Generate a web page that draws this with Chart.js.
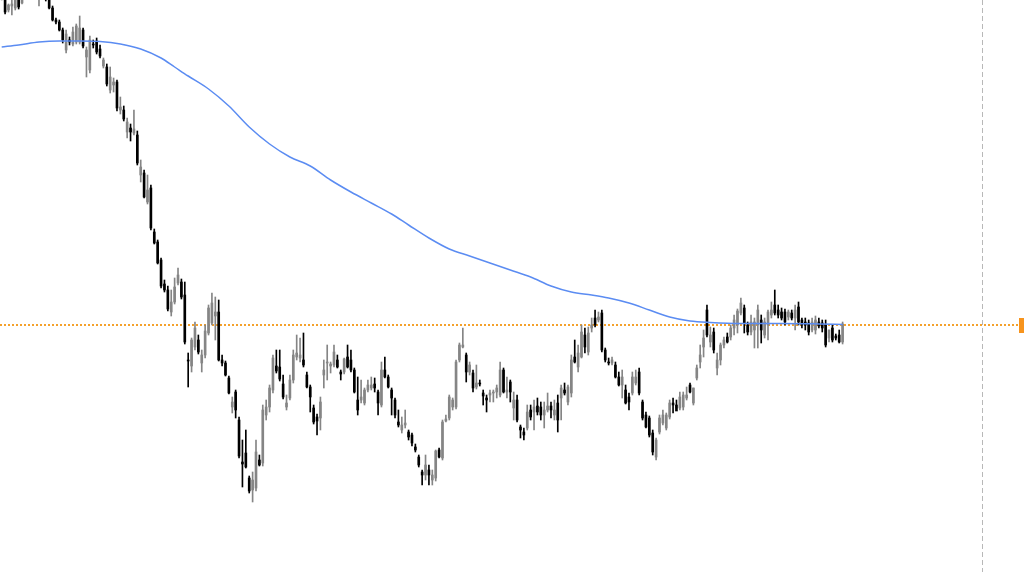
<!DOCTYPE html>
<html>
<head>
<meta charset="utf-8">
<script src="https://cdn.jsdelivr.net/npm/chart.js@4.4.1/dist/chart.umd.min.js"></script>
<style>
  html, body { margin: 0; padding: 0; background: #ffffff; }
  #wrap { width: 1024px; height: 572px; position: relative; }
</style>
</head>
<body>
<div id="wrap"><canvas id="c"></canvas></div>
<script>
// ---- data ----
const openP = [1.2002,1.2004,1.1990,1.1994,1.1992,1.2002,1.1997,1.2005,1.2009,1.2012,1.2010,1.2002,1.2006,1.2004,1.2003,1.1992,1.1980,1.1978,1.1970,1.1950,
1.1960,1.1956,1.1958,1.1958,1.1970,1.1943,1.1930,1.1956,1.1959,1.1951,1.1934,1.1933,1.1910,1.1915,1.1918,1.1890,1.1890,1.1868,1.1872,1.1867,
1.1865,1.1825,1.1827,1.1798,1.1812,1.1768,1.1758,1.1740,1.1716,1.1710,1.1688,1.1698,1.1717,1.1718,1.1705,1.1640,1.1634,1.1653,1.1660,1.1637,
1.1645,1.1667,1.1677,1.1684,1.1688,1.1640,1.1637,1.1622,1.1593,1.1608,1.1580,1.1538,1.1547,1.1522,1.1510,1.1512,1.1540,1.1537,1.1585,1.1593,
1.1610,1.1634,1.1633,1.1616,1.1593,1.1602,1.1620,1.1643,1.1642,1.1640,1.1625,1.1613,1.1592,1.1583,1.1582,1.1625,1.1637,1.1634,1.1635,1.1640,
1.1628,1.1628,1.1643,1.1640,1.1630,1.1600,1.1600,1.1597,1.1610,1.1612,1.1616,1.1608,1.1595,1.1630,1.1623,1.1610,1.1600,1.1578,1.1570,1.1575,
1.1568,1.1565,1.1553,1.1543,1.1528,1.1525,1.1530,1.1520,1.1522,1.1550,1.1542,1.1579,1.1582,1.1593,1.1593,1.1640,1.1653,1.1645,1.1628,1.1627,
1.1613,1.1617,1.1607,1.1602,1.1605,1.1607,1.1608,1.1605,1.1630,1.1608,1.1618,1.1592,1.1600,1.1573,1.1568,1.1572,1.1590,1.1588,1.1594,1.1593,
1.1585,1.1590,1.1594,1.1585,1.1597,1.1602,1.1610,1.1598,1.1607,1.1643,1.1633,1.1643,1.1665,1.1648,1.1672,1.1682,1.1680,1.1687,1.1650,1.1638,
1.1637,1.1635,1.1623,1.1615,1.1610,1.1603,1.1607,1.1617,1.1628,1.1598,1.1585,1.1582,1.1567,1.1543,1.1568,1.1577,1.1572,1.1583,1.1597,1.1595,
1.1592,1.1593,1.1602,1.1615,1.1597,1.1622,1.1638,1.1653,1.1690,1.1658,1.1668,1.1632,1.1640,1.1655,1.1663,1.1663,1.1672,1.1675,1.1687,1.1692,
1.1675,1.1668,1.1670,1.1675,1.1680,1.1665,1.1675,1.1685,1.1695,1.1690,1.1688,1.1688,1.1683,1.1687,1.1682,1.1693,1.1680,1.1678,1.1677,1.1670,
1.1670,1.1678,1.1677,1.1675,1.1662,1.1672,1.1664,1.1665,1.1658];
const highP = [1.2014,1.2008,1.1996,1.2002,1.2003,1.2005,1.2006,1.2012,1.2015,1.2018,1.2016,1.2008,1.2010,1.2009,1.2006,1.1994,1.1982,1.1980,1.1972,1.1970,
1.1963,1.1973,1.1976,1.1984,1.1972,1.1953,1.1964,1.1960,1.1962,1.1955,1.1942,1.1936,1.1933,1.1922,1.1920,1.1903,1.1894,1.1882,1.1876,1.1890,
1.1869,1.1840,1.1830,1.1825,1.1815,1.1771,1.1760,1.1742,1.1720,1.1714,1.1710,1.1722,1.1732,1.1721,1.1718,1.1647,1.1662,1.1678,1.1665,1.1650,
1.1675,1.1695,1.1707,1.1703,1.1700,1.1645,1.1639,1.1624,1.1603,1.1610,1.1583,1.1560,1.1570,1.1524,1.1528,1.1560,1.1545,1.1595,1.1600,1.1615,
1.1645,1.1650,1.1650,1.1625,1.1605,1.1625,1.1650,1.1665,1.1662,1.1667,1.1628,1.1615,1.1595,1.1586,1.1603,1.1640,1.1655,1.1638,1.1655,1.1645,
1.1630,1.1642,1.1655,1.1650,1.1632,1.1623,1.1620,1.1612,1.1620,1.1623,1.1622,1.1610,1.1638,1.1643,1.1625,1.1612,1.1602,1.1590,1.1583,1.1590,
1.1570,1.1567,1.1556,1.1545,1.1530,1.1545,1.1535,1.1530,1.1550,1.1552,1.1580,1.1585,1.1605,1.1602,1.1640,1.1657,1.1672,1.1647,1.1638,1.1630,
1.1635,1.1620,1.1610,1.1605,1.1610,1.1610,1.1615,1.1638,1.1632,1.1623,1.1620,1.1608,1.1605,1.1575,1.1572,1.1595,1.1595,1.1600,1.1602,1.1598,
1.1598,1.1607,1.1598,1.1600,1.1605,1.1615,1.1617,1.1615,1.1645,1.1660,1.1655,1.1675,1.1672,1.1673,1.1682,1.1690,1.1688,1.1690,1.1652,1.1642,
1.1643,1.1638,1.1628,1.1630,1.1615,1.1607,1.1628,1.1630,1.1632,1.1600,1.1588,1.1584,1.1570,1.1562,1.1585,1.1590,1.1587,1.1600,1.1602,1.1600,
1.1608,1.1608,1.1613,1.1617,1.1612,1.1635,1.1655,1.1670,1.1695,1.1673,1.1672,1.1647,1.1657,1.1663,1.1667,1.1675,1.1685,1.1691,1.1702,1.1695,
1.1678,1.1685,1.1682,1.1695,1.1685,1.1682,1.1690,1.1698,1.1710,1.1695,1.1692,1.1691,1.1690,1.1690,1.1695,1.1698,1.1682,1.1682,1.1680,1.1682,
1.1684,1.1682,1.1680,1.1680,1.1670,1.1675,1.1666,1.1670,1.1678];
const lowP = [1.2000,1.1986,1.1988,1.1985,1.1990,1.1991,1.1996,1.2002,1.2004,1.2008,1.2003,1.1994,1.2001,1.1999,1.1991,1.1979,1.1976,1.1969,1.1957,1.1947,
1.1955,1.1954,1.1956,1.1956,1.1952,1.1923,1.1927,1.1952,1.1946,1.1942,1.1932,1.1914,1.1907,1.1908,1.1889,1.1886,1.1879,1.1862,1.1859,1.1865,
1.1835,1.1818,1.1802,1.1796,1.1770,1.1756,1.1736,1.1712,1.1708,1.1689,1.1684,1.1696,1.1715,1.1701,1.1656,1.1613,1.1628,1.1650,1.1646,1.1628,
1.1642,1.1665,1.1675,1.1660,1.1639,1.1634,1.1624,1.1606,1.1587,1.1582,1.1542,1.1513,1.1532,1.1507,1.1498,1.1509,1.1534,1.1534,1.1580,1.1588,
1.1607,1.1627,1.1619,1.1601,1.1590,1.1600,1.1617,1.1640,1.1638,1.1633,1.1612,1.1588,1.1576,1.1565,1.1570,1.1612,1.1620,1.1627,1.1633,1.1632,
1.1620,1.1626,1.1632,1.1628,1.1607,1.1585,1.1597,1.1595,1.1608,1.1610,1.1608,1.1585,1.1593,1.1622,1.1612,1.1585,1.1582,1.1573,1.1567,1.1572,
1.1560,1.1554,1.1548,1.1533,1.1515,1.1520,1.1515,1.1515,1.1519,1.1542,1.1540,1.1578,1.1580,1.1590,1.1591,1.1638,1.1652,1.1618,1.1625,1.1608,
1.1611,1.1614,1.1595,1.1588,1.1598,1.1598,1.1602,1.1603,1.1607,1.1602,1.1598,1.1580,1.1578,1.1562,1.1560,1.1570,1.1580,1.1570,1.1585,1.1580,
1.1572,1.1588,1.1582,1.1580,1.1568,1.1580,1.1605,1.1595,1.1603,1.1637,1.1628,1.1642,1.1647,1.1645,1.1668,1.1673,1.1678,1.1648,1.1638,1.1635,
1.1635,1.1622,1.1614,1.1602,1.1596,1.1590,1.1605,1.1615,1.1605,1.1580,1.1572,1.1563,1.1545,1.1540,1.1566,1.1575,1.1570,1.1581,1.1587,1.1592,
1.1590,1.1590,1.1600,1.1607,1.1595,1.1620,1.1632,1.1643,1.1663,1.1653,1.1647,1.1625,1.1635,1.1652,1.1657,1.1660,1.1665,1.1667,1.1685,1.1667,
1.1665,1.1665,1.1652,1.1652,1.1657,1.1662,1.1660,1.1682,1.1685,1.1682,1.1680,1.1675,1.1680,1.1680,1.1670,1.1675,1.1672,1.1670,1.1665,1.1668,
1.1666,1.1672,1.1668,1.1653,1.1658,1.1658,1.1660,1.1657,1.1656];
const closeP = [1.2010,1.1988,1.1995,1.1996,1.2000,1.1993,1.2003,1.2009,1.2012,1.2010,1.2006,1.2006,1.2004,1.2001,1.1992,1.1980,1.1978,1.1970,1.1960,1.1966,
1.1958,1.1968,1.1974,1.1972,1.1954,1.1950,1.1960,1.1955,1.1948,1.1944,1.1940,1.1916,1.1923,1.1918,1.1892,1.1893,1.1881,1.1878,1.1868,1.1871,
1.1837,1.1833,1.1803,1.1810,1.1772,1.1757,1.1737,1.1714,1.1710,1.1691,1.1698,1.1713,1.1725,1.1703,1.1658,1.1639,1.1660,1.1672,1.1648,1.1645,
1.1669,1.1692,1.1697,1.1688,1.1640,1.1637,1.1625,1.1607,1.1598,1.1590,1.1544,1.1536,1.1533,1.1509,1.1520,1.1548,1.1535,1.1590,1.1593,1.1612,
1.1642,1.1629,1.1621,1.1603,1.1597,1.1620,1.1645,1.1647,1.1645,1.1635,1.1613,1.1603,1.1578,1.1579,1.1598,1.1630,1.1638,1.1636,1.1648,1.1633,
1.1626,1.1641,1.1633,1.1630,1.1608,1.1590,1.1603,1.1610,1.1615,1.1615,1.1612,1.1597,1.1630,1.1623,1.1613,1.1602,1.1585,1.1575,1.1575,1.1577,
1.1563,1.1557,1.1550,1.1535,1.1525,1.1535,1.1525,1.1525,1.1549,1.1543,1.1578,1.1581,1.1603,1.1600,1.1638,1.1655,1.1655,1.1628,1.1635,1.1612,
1.1617,1.1616,1.1604,1.1600,1.1607,1.1608,1.1612,1.1630,1.1608,1.1610,1.1608,1.1600,1.1580,1.1570,1.1565,1.1588,1.1583,1.1593,1.1588,1.1585,
1.1590,1.1594,1.1590,1.1590,1.1580,1.1612,1.1607,1.1613,1.1640,1.1638,1.1647,1.1668,1.1653,1.1667,1.1675,1.1675,1.1683,1.1650,1.1640,1.1637,
1.1640,1.1623,1.1615,1.1623,1.1597,1.1598,1.1623,1.1623,1.1607,1.1582,1.1573,1.1565,1.1548,1.1560,1.1582,1.1585,1.1585,1.1597,1.1595,1.1589,
1.1603,1.1605,1.1605,1.1608,1.1612,1.1632,1.1645,1.1662,1.1665,1.1665,1.1650,1.1640,1.1655,1.1660,1.1658,1.1672,1.1680,1.1689,1.1697,1.1677,
1.1668,1.1678,1.1678,1.1690,1.1670,1.1678,1.1688,1.1690,1.1687,1.1685,1.1682,1.1678,1.1688,1.1682,1.1690,1.1678,1.1675,1.1675,1.1668,1.1678,
1.1680,1.1674,1.1672,1.1655,1.1670,1.1660,1.1662,1.1658,1.1676];

// moving average, read at selected candle positions
const maIndex = [0,5,11,17,23,29,35,41,47,51,55,61,67,73,79,85,91,97,103,109,115,120,126,132,138,144,150,156,162,168,174,179,185,191,197,203,209,218,230,241,248];
const maValue = [1.1953,1.1955,1.1958,1.1959,1.1959,1.19585,1.1956,1.1951,1.1942,1.1933,1.1924,1.1911,1.1894,1.1873,1.1856,1.1843,1.1834,1.1820,1.1808,1.1797,1.1786,1.1775,1.1762,1.1751,1.1744,1.1737,1.1730,1.1723,1.1714,1.1708,1.1705,1.1702,1.1697,1.1690,1.1683,1.1679,1.16775,1.16765,1.16765,1.1676,1.16755];

const slotCount = 302;        // time slots on the x axis (candles + empty future)
const currentPrice = 1.1675;  // dotted orange level
const markerSlot = 289;       // vertical dashed marker
const yMin = 1.1428, yMax = 1.2000;

// ---- build library data ----
const labels = Array.from({length: slotCount}, (_, i) => String(i));
const n = openP.length;
const UP = '#858585', DOWN = '#000000';
const bodies = [], wicks = [], colors = [];
for (let i = 0; i < n; i++) {
  bodies.push([openP[i], closeP[i]]);
  wicks.push([lowP[i], highP[i]]);
  colors.push(closeP[i] >= openP[i] ? UP : DOWN);
}
const maData = new Array(n).fill(null);
maIndex.forEach((ix, k) => { maData[ix] = maValue[k]; });

const overlay = {
  id: 'overlay',
  beforeDatasetsDraw(chart) {
    const {ctx, chartArea, scales} = chart;
    const y = Math.round(scales.y.getPixelForValue(currentPrice));
    ctx.save();
    ctx.strokeStyle = '#f4a12c';
    ctx.lineWidth = 2;
    ctx.setLineDash([2, 2]);
    ctx.beginPath();
    ctx.moveTo(chartArea.left, y);
    ctx.lineTo(chartArea.right - 5, y);
    ctx.stroke();
    const x = Math.round(scales.x.getPixelForValue(markerSlot)) + 0.5;
    ctx.strokeStyle = '#b8b8b8';
    ctx.lineWidth = 1;
    ctx.setLineDash([5, 3]);
    ctx.beginPath();
    ctx.moveTo(x, chartArea.top);
    ctx.lineTo(x, chartArea.bottom);
    ctx.stroke();
    ctx.restore();
  },
  afterDatasetsDraw(chart) {
    const {ctx, chartArea, scales} = chart;
    const y = scales.y.getPixelForValue(currentPrice);
    ctx.save();
    ctx.fillStyle = '#f7941d';
    ctx.fillRect(chartArea.right - 5, Math.round(y) - 7, 5, 15);
    ctx.restore();
  }
};

new Chart(document.getElementById('c'), {
  type: 'bar',
  data: {
    labels,
    datasets: [
      { type: 'line', label: 'MA', data: maData, borderColor: '#5b8cf2', borderWidth: 1.5,
        pointRadius: 0, spanGaps: true, cubicInterpolationMode: 'monotone', order: 0 },
      { label: 'body', data: bodies, backgroundColor: colors, barThickness: 2,
        minBarLength: 1, grouped: false, order: 1 },
      { label: 'wick', data: wicks, backgroundColor: colors, barThickness: 1,
        grouped: false, order: 2 }
    ]
  },
  options: {
    responsive: true,
    maintainAspectRatio: false,
    animation: false,
    layout: { padding: 0 },
    plugins: { legend: { display: false }, tooltip: { enabled: false } },
    scales: {
      x: { type: 'category', display: false, offset: true, grid: { display: false } },
      y: { display: false, min: yMin, max: yMax, grid: { display: false } }
    }
  },
  plugins: [overlay]
});
</script>
</body>
</html>
